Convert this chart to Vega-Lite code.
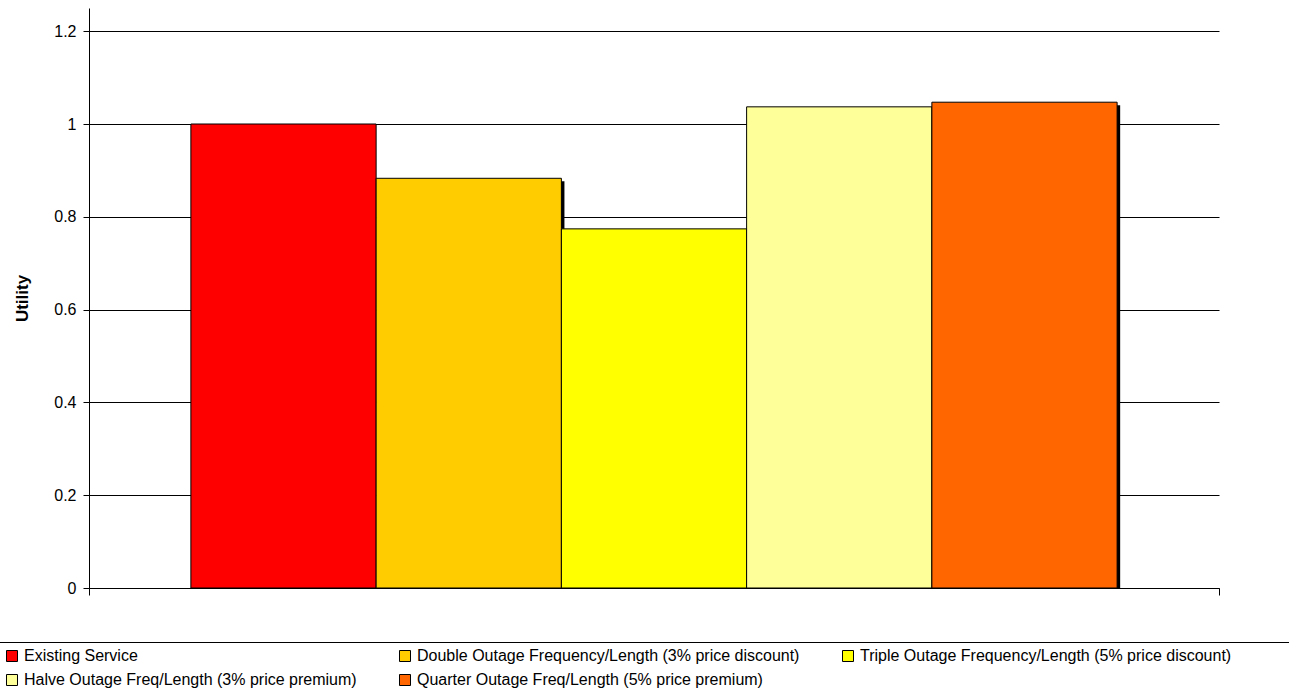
{
  "$schema": "https://vega.github.io/schema/vega-lite/v6.json",
  "width": 1130,
  "height": 580,
  "autosize": {"type": "none"},
  "padding": {"left": 89, "top": 8, "right": 70, "bottom": 104},
  "background": "white",
  "config": {
    "view": {"stroke": null},
    "font": "Liberation Sans"
  },
  "data": {
    "values": [
      {"group": "Utility", "series": "Existing Service", "utility": 1.0},
      {"group": "Utility", "series": "Double Outage Frequency/Length (3% price discount)", "utility": 0.883},
      {"group": "Utility", "series": "Triple Outage Frequency/Length (5% price discount)", "utility": 0.774},
      {"group": "Utility", "series": "Halve Outage Freq/Length (3% price premium)", "utility": 1.037},
      {"group": "Utility", "series": "Quarter Outage Freq/Length (5% price premium)", "utility": 1.047}
    ]
  },
  "encoding": {
    "x": {
      "field": "group",
      "type": "nominal",
      "scale": {"paddingInner": 0, "paddingOuter": 0},
      "axis": {
        "labels": false,
        "title": null,
        "tickBand": "extent",
        "domainColor": "black",
        "tickColor": "black",
        "tickSize": 7,
        "grid": false
      }
    },
    "y": {
      "field": "utility",
      "type": "quantitative",
      "scale": {"domain": [0, 1.25], "nice": false, "zero": true},
      "axis": {
        "values": [0, 0.2, 0.4, 0.6, 0.8, 1, 1.2],
        "format": "~g",
        "grid": true,
        "gridColor": "black",
        "gridOpacity": 1,
        "gridWidth": 1,
        "domainColor": "black",
        "tickColor": "black",
        "tickSize": 6,
        "labelFontSize": 16,
        "labelColor": "black",
        "labelPadding": 7,
        "title": "Utility",
        "titleFontSize": 17,
        "titleFontWeight": "bold",
        "titleColor": "black",
        "titlePadding": 22
      }
    }
  },
  "layer": [
    {
      "transform": [{"filter": "datum.series !== 'Existing Service'"}],
      "mark": {"type": "bar", "fill": "black", "yOffset": 3, "clip": true},
      "encoding": {
        "xOffset": {
          "field": "series",
          "type": "nominal",
          "sort": [
            "Existing Service",
            "Double Outage Frequency/Length (3% price discount)",
            "Triple Outage Frequency/Length (5% price discount)",
            "Halve Outage Freq/Length (3% price premium)",
            "Quarter Outage Freq/Length (5% price premium)"
          ],
          "scale": {
            "domain": [
              "Existing Service",
              "Double Outage Frequency/Length (3% price discount)",
              "Triple Outage Frequency/Length (5% price discount)",
              "Halve Outage Freq/Length (3% price premium)",
              "Quarter Outage Freq/Length (5% price premium)"
            ],
            "paddingInner": 0,
            "paddingOuter": 0.55,
            "align": 0.515
          }
        }
      }
    },
    {
      "mark": {"type": "bar", "stroke": "black", "strokeWidth": 1, "opacity": 1},
      "encoding": {
        "xOffset": {
          "field": "series",
          "type": "nominal",
          "sort": [
            "Existing Service",
            "Double Outage Frequency/Length (3% price discount)",
            "Triple Outage Frequency/Length (5% price discount)",
            "Halve Outage Freq/Length (3% price premium)",
            "Quarter Outage Freq/Length (5% price premium)"
          ],
          "scale": {"paddingInner": 0, "paddingOuter": 0.55}
        },
        "color": {
          "field": "series",
          "type": "nominal",
          "scale": {
            "domain": [
              "Existing Service",
              "Double Outage Frequency/Length (3% price discount)",
              "Triple Outage Frequency/Length (5% price discount)",
              "Halve Outage Freq/Length (3% price premium)",
              "Quarter Outage Freq/Length (5% price premium)"
            ],
            "range": ["#FF0000", "#FFCC00", "#FFFF00", "#FFFF99", "#FF6600"]
          },
          "legend": {
            "orient": "none",
            "legendX": -91,
            "legendY": 634,
            "direction": "horizontal",
            "columns": 3,
            "columnPadding": 40,
            "rowPadding": 8,
            "padding": 6,
            "strokeColor": "black",
            "symbolType": "square",
            "symbolSize": 121,
            "symbolStrokeColor": "black",
            "symbolStrokeWidth": 1,
            "symbolOpacity": 1,
            "labelFontSize": 16,
            "labelColor": "black",
            "labelOffset": 4,
            "labelLimit": 1000,
            "title": " ",
            "titleOrient": "right",
            "titlePadding": 200
          }
        }
      }
    }
  ],
  "resolve": {"scale": {"xOffset": "independent"}}
}
